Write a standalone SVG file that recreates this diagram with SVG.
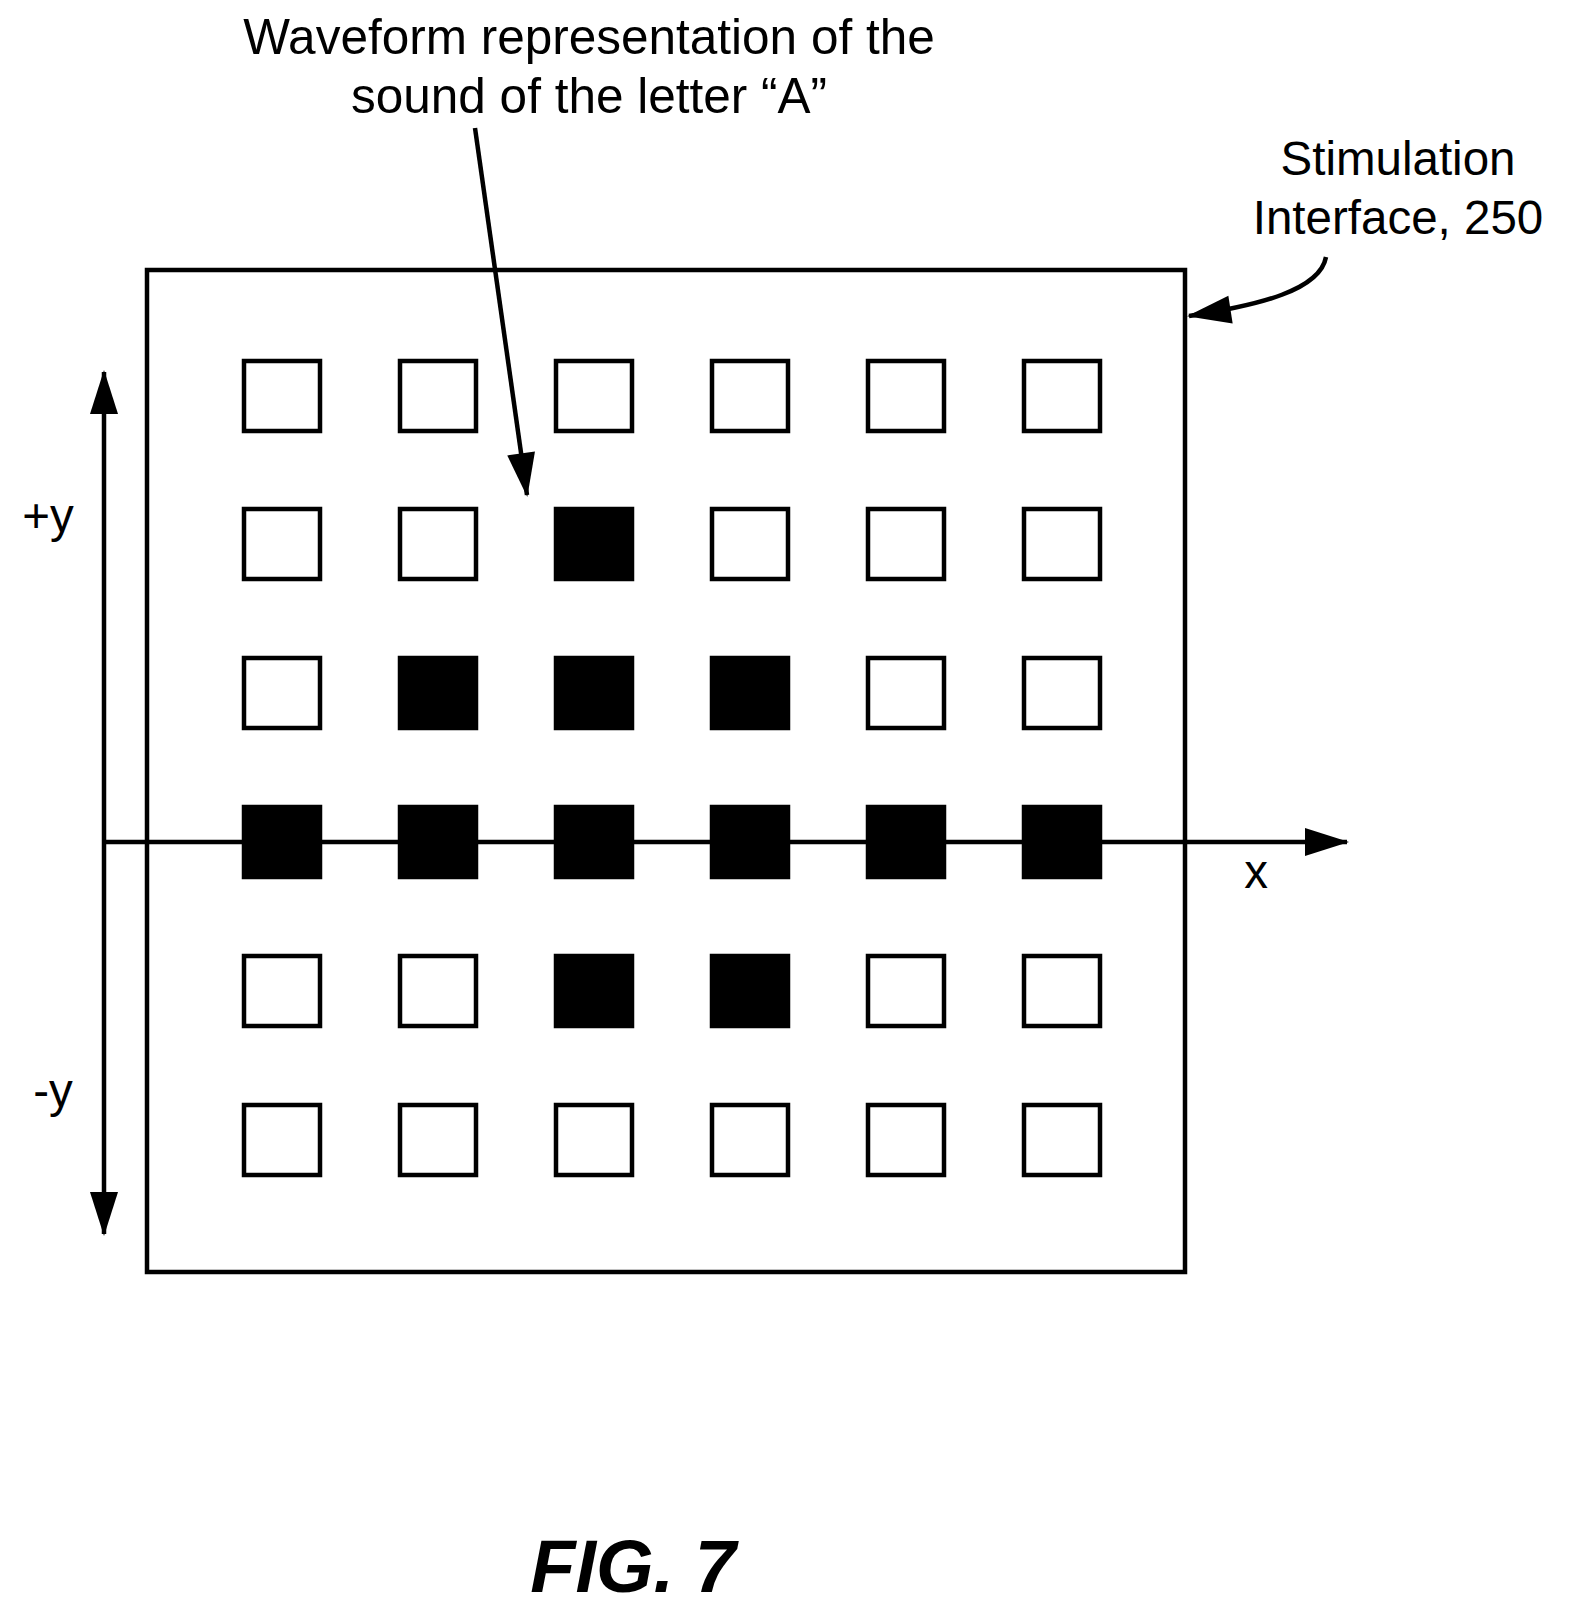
<svg xmlns="http://www.w3.org/2000/svg" width="1573" height="1617" viewBox="0 0 1573 1617">
<style>
text{font-family:"Liberation Sans",Arial,sans-serif;fill:#000}
.e{fill:#fff;stroke:#000;stroke-width:4.5}
.f{fill:#000;stroke:#000;stroke-width:4.5}
.l{fill:none;stroke:#000;stroke-width:4.5}
</style>
<defs>
<marker id="a" markerUnits="userSpaceOnUse" markerWidth="44" markerHeight="28" refX="42" refY="14" orient="auto" overflow="visible">
<path d="M0,0 L44,14 L0,28 z" fill="#000"/>
</marker>
</defs>
<rect width="1573" height="1617" fill="#fff"/>
<g id="interface"><rect x="147" y="270" width="1038" height="1002" class="l"/></g>
<g id="grid">
<rect x="244" y="361" width="76" height="70" class="e"/><rect x="400" y="361" width="76" height="70" class="e"/><rect x="556" y="361" width="76" height="70" class="e"/><rect x="712" y="361" width="76" height="70" class="e"/><rect x="868" y="361" width="76" height="70" class="e"/><rect x="1024" y="361" width="76" height="70" class="e"/>
<rect x="244" y="509" width="76" height="70" class="e"/><rect x="400" y="509" width="76" height="70" class="e"/><rect x="556" y="509" width="76" height="70" class="f"/><rect x="712" y="509" width="76" height="70" class="e"/><rect x="868" y="509" width="76" height="70" class="e"/><rect x="1024" y="509" width="76" height="70" class="e"/>
<rect x="244" y="658" width="76" height="70" class="e"/><rect x="400" y="658" width="76" height="70" class="f"/><rect x="556" y="658" width="76" height="70" class="f"/><rect x="712" y="658" width="76" height="70" class="f"/><rect x="868" y="658" width="76" height="70" class="e"/><rect x="1024" y="658" width="76" height="70" class="e"/>
<rect x="244" y="807" width="76" height="70" class="f"/><rect x="400" y="807" width="76" height="70" class="f"/><rect x="556" y="807" width="76" height="70" class="f"/><rect x="712" y="807" width="76" height="70" class="f"/><rect x="868" y="807" width="76" height="70" class="f"/><rect x="1024" y="807" width="76" height="70" class="f"/>
<rect x="244" y="956" width="76" height="70" class="e"/><rect x="400" y="956" width="76" height="70" class="e"/><rect x="556" y="956" width="76" height="70" class="f"/><rect x="712" y="956" width="76" height="70" class="f"/><rect x="868" y="956" width="76" height="70" class="e"/><rect x="1024" y="956" width="76" height="70" class="e"/>
<rect x="244" y="1105" width="76" height="70" class="e"/><rect x="400" y="1105" width="76" height="70" class="e"/><rect x="556" y="1105" width="76" height="70" class="e"/><rect x="712" y="1105" width="76" height="70" class="e"/><rect x="868" y="1105" width="76" height="70" class="e"/><rect x="1024" y="1105" width="76" height="70" class="e"/>
</g>
<g id="connectors">
<line x1="104" y1="842" x2="104" y2="372" class="l" marker-end="url(#a)"/>
<line x1="104" y1="842" x2="104" y2="1234" class="l" marker-end="url(#a)"/>
<line x1="106" y1="842" x2="1347" y2="842" class="l" marker-end="url(#a)"/>
<line x1="475" y1="128" x2="527" y2="495" class="l" marker-end="url(#a)"/>
<path d="M1326,257 C1320,290 1260,305 1189,316" class="l" marker-end="url(#a)"/>
</g>
<g id="labels">
<text x="589" y="54" font-size="49.5" text-anchor="middle">Waveform representation of the</text>
<text x="589" y="113" font-size="49.5" text-anchor="middle">sound of the letter “A”</text>
<text x="1398" y="175" font-size="47.5" text-anchor="middle">Stimulation</text>
<text x="1398" y="234" font-size="47.5" text-anchor="middle">Interface, 250</text>
<text x="48" y="532" font-size="47.5" text-anchor="middle">+y</text>
<text x="53" y="1107" font-size="47.5" text-anchor="middle">-y</text>
<text x="1256" y="888" font-size="47.5" text-anchor="middle">x</text>
<text x="633" y="1592" font-size="74" font-weight="bold" font-style="italic" text-anchor="middle">FIG. 7</text>
</g>
</svg>
